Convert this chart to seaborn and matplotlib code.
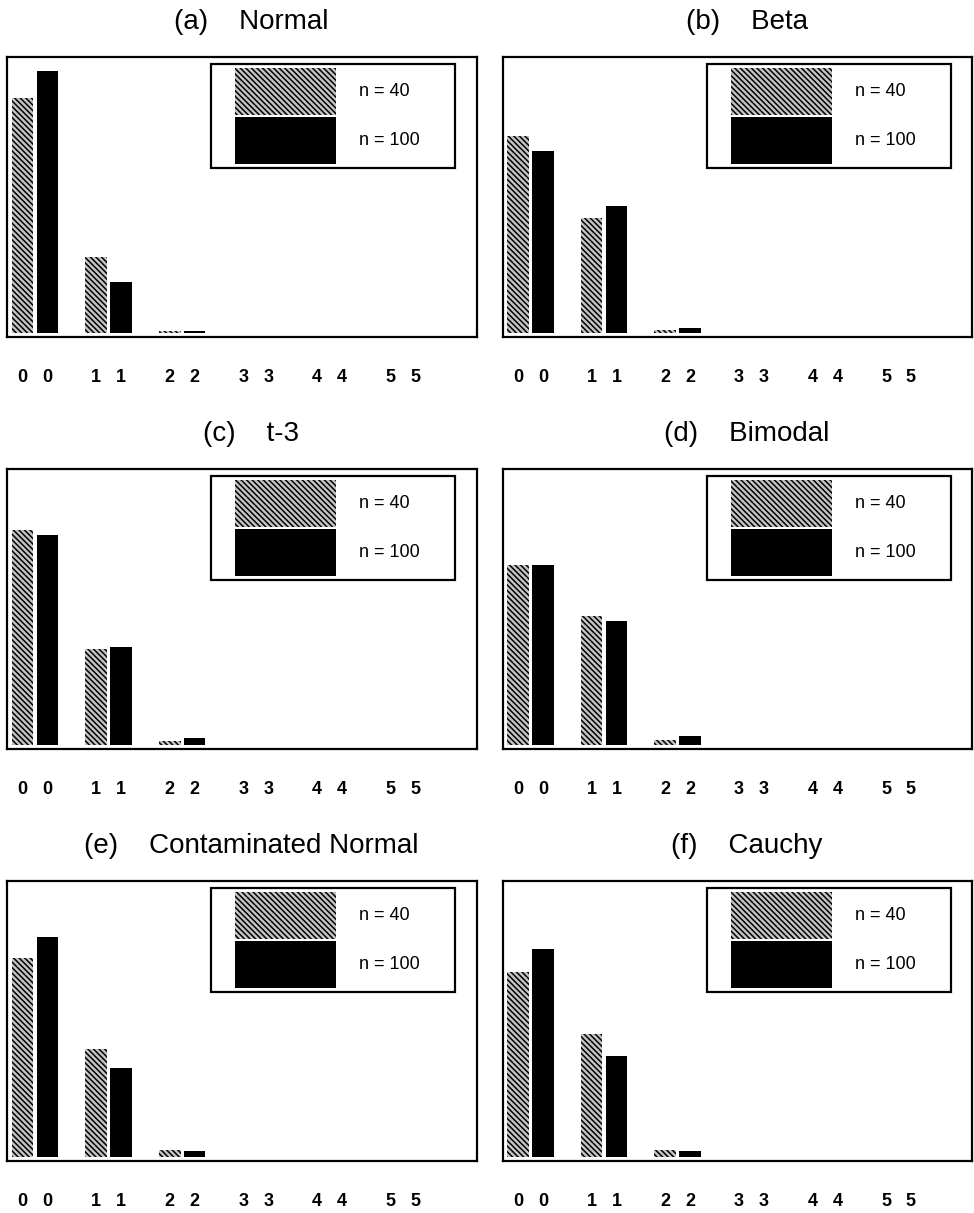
import pandas as pd
import seaborn as sns
import matplotlib.pyplot as plt
import matplotlib.patches as mpatches
from matplotlib.legend_handler import HandlerPatch

sns.set_style('white')
plt.rcParams['font.family'] = ['Liberation Sans', 'DejaVu Sans']
plt.rcParams['text.color'] = 'black'
plt.rcParams['xtick.color'] = 'black'
plt.rcParams['hatch.color'] = 'black'
plt.rcParams['hatch.linewidth'] = 1.1

counts = [0, 1, 2, 3, 4, 5]
sizes = ['n = 40', 'n = 100']
titles = ['(a)    Normal', '(b)    Beta', '(c)    t-3',
          '(d)    Bimodal', '(e)    Contaminated Normal', '(f)    Cauchy']

# proportion of samples for each count
normal_40 = [0.750, 0.243, 0.005, 0, 0, 0]
normal_100 = [0.835, 0.162, 0.005, 0, 0, 0]
beta_40 = [0.627, 0.366, 0.007, 0, 0, 0]
beta_100 = [0.580, 0.404, 0.016, 0, 0, 0]
t3_40 = [0.684, 0.305, 0.011, 0, 0, 0]
t3_100 = [0.668, 0.311, 0.021, 0, 0, 0]
bimodal_40 = [0.573, 0.410, 0.016, 0, 0, 0]
bimodal_100 = [0.575, 0.396, 0.029, 0, 0, 0]
contam_40 = [0.635, 0.345, 0.020, 0, 0, 0]
contam_100 = [0.700, 0.283, 0.017, 0, 0, 0]
cauchy_40 = [0.590, 0.390, 0.020, 0, 0, 0]
cauchy_100 = [0.662, 0.320, 0.018, 0, 0, 0]

panels = [(normal_40, normal_100), (beta_40, beta_100), (t3_40, t3_100),
          (bimodal_40, bimodal_100), (contam_40, contam_100), (cauchy_40, cauchy_100)]

GRAY = '#c4c4c4'
HATCH = r'\\\\\\'


def swatch(legend, orig_handle, xdescent, ydescent, width, height, fontsize):
    off = 14.4
    return mpatches.Rectangle((-xdescent + off, -ydescent), width - off, height)


fig, axes = plt.subplots(3, 2, figsize=(9.74, 12.13), dpi=100)
fig.subplots_adjust(left=0.0072, right=0.998, bottom=0.0429, top=0.953,
                    wspace=0.0553, hspace=0.471)

for ax, title, (v40, v100) in zip(axes.flat, titles, panels):
    df = pd.DataFrame({
        'k': counts * 2,
        'p': list(v40) + list(v100),
        'n': [sizes[0]] * len(counts) + [sizes[1]] * len(counts),
    })
    sns.barplot(data=df, x='k', y='p', hue='n', order=counts, hue_order=sizes,
                palette=[GRAY, 'black'], saturation=1, width=0.675, gap=0.13,
                legend=False, ax=ax)
    for p in ax.containers[0].patches:
        p.set_hatch(HATCH)
        p.set_edgecolor('black')
        p.set_linewidth(0)
    for p in ax.containers[1].patches:
        p.set_linewidth(0)

    centers = sorted(p.get_x() + p.get_width() / 2 for p in ax.patches)
    ax.set_xticks(centers)
    ax.set_xticklabels([str(int(round(c))) for c in centers],
                       fontweight='bold', fontsize=13)
    ax.tick_params(axis='x', length=0, pad=23)
    ax.set_yticks([])
    ax.set_xlabel('')
    ax.set_ylabel('')
    ax.set_xlim(-0.38, 6.0)
    ax.set_ylim(-0.014, 0.88)
    for s in ax.spines.values():
        s.set_visible(True)
        s.set_color('black')
        s.set_linewidth(1.6)
    ax.set_title(title, fontsize=20, pad=20, x=0.52)

    handles = [mpatches.Patch(facecolor=GRAY, edgecolor='black', linewidth=0, hatch=HATCH),
               mpatches.Patch(facecolor='black', linewidth=0)]
    leg = ax.legend(handles, sizes, loc='upper left', mode='expand',
                    bbox_to_anchor=(0.435, 0.6, 0.52, 0.375), borderaxespad=0,
                    fontsize=13, handlelength=6.7, handleheight=3.62,
                    labelspacing=0.11, handletextpad=1.28, borderpad=0.22,
                    fancybox=False, framealpha=1,
                    handler_map={mpatches.Patch: HandlerPatch(patch_func=swatch)})
    leg.get_frame().set_edgecolor('black')
    leg.get_frame().set_linewidth(1.6)

plt.savefig('out.png', dpi=100)
